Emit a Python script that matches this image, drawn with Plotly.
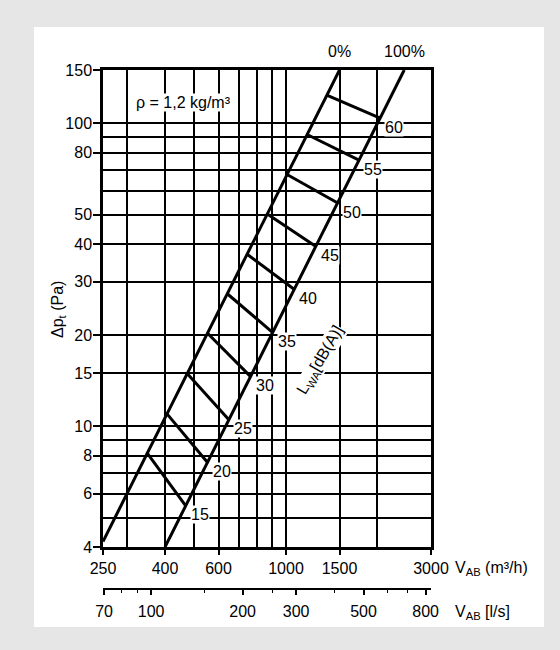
import math
import plotly.graph_objects as go

# ---------------- data ----------------
# characteristic lines (V in m3/h, dp in Pa)
line0_v = [250, 1500]
line0_dp = [4.17, 150]
line100_v = [400, 2449]
line100_dp = [4, 150]

# sound power level rungs L_WA [dB(A)]
rung_labels = ["15", "20", "25", "30", "35", "40", "45", "50", "55", "60"]
rung_v_start = [350, 406, 473, 552, 641, 745, 868, 1008, 1173, 1362]
rung_dp_start = [8.15, 11.0, 14.95, 20.3, 27.4, 37.0, 50.2, 67.8, 91.9, 124.0]
rung_v_end = [468, 552, 650, 765, 905, 1066, 1255, 1485, 1745, 2040]
rung_dp_end = [5.47, 7.6, 10.5, 14.6, 20.4, 28.3, 39.2, 54.5, 75.5, 104]

# axes
x_range = [250, 3000]
x_ticks = [250, 400, 600, 1000, 1500, 3000]
x_grid_minor = [300, 500, 700, 800, 900, 2000]
y_range = [4, 150]
y_ticks = [4, 6, 8, 10, 15, 20, 30, 40, 50, 80, 100, 150]
y_grid_minor = [5, 7, 9, 60, 70, 90]
ls_ticks = [70, 100, 200, 300, 500, 800]
ls_minor = [80, 90, 150, 250, 400, 600, 700]
M3H_PER_LS = 3.6

# ---------------- figure ----------------
FONT = "Liberation Sans, Arial, sans-serif"
FS = 16
W, H = 560, 650
L, R, T, B = 103, 129, 70, 61
PW = W - L - R
PH = H - T - B
plot_bottom = 547
ydom0 = (H - B - plot_bottom) / PH


def px_x(p):
    return (p - L) / PW


def px_y(p):
    return (H - B - p) / PH


fig = go.Figure()

fig.add_trace(go.Scatter(x=line0_v, y=line0_dp, mode="lines",
                         line=dict(color="black", width=3), hoverinfo="skip", showlegend=False))
fig.add_trace(go.Scatter(x=line100_v, y=line100_dp, mode="lines",
                         line=dict(color="black", width=3), hoverinfo="skip", showlegend=False))

rx, ry = [], []
for a, b, c, d in zip(rung_v_start, rung_v_end, rung_dp_start, rung_dp_end):
    rx += [a, b, None]
    ry += [c, d, None]
fig.add_trace(go.Scatter(x=rx, y=ry, mode="lines",
                         line=dict(color="black", width=3), hoverinfo="skip", showlegend=False))

# invisible trace to carry the l/s axis
fig.add_trace(go.Scatter(x=[x_range[0] / M3H_PER_LS, x_range[1] / M3H_PER_LS], y=[y_range[0], y_range[0]],
                         xaxis="x2", yaxis="y", mode="markers", marker=dict(opacity=0),
                         hoverinfo="skip", showlegend=False))

txt = dict(family=FONT, size=FS, color="black")

annotations = []
for lab, v, dp in zip(rung_labels, rung_v_end, rung_dp_end):
    annotations.append(dict(x=math.log10(v), y=math.log10(dp), xref="x", yref="y", text=lab,
                            showarrow=False, xanchor="center", yanchor="middle",
                            xshift=14, yshift=-9, bgcolor="white", borderpad=0, font=txt))


def ann(x, y, text, xref="paper", **kw):
    d = dict(x=x, y=y, xref=xref, yref="paper", text=text, showarrow=False,
             xanchor="center", yanchor="middle", font=txt)
    d.update(kw)
    return d


annotations += [
    ann(math.log10(line0_v[1]), px_y(52), "0%", xref="x"),
    ann(math.log10(line100_v[1]), px_y(52), "100%", xref="x"),
    ann(px_x(183), px_y(102), "ρ = 1,2 kg/m³", bgcolor="white", borderpad=0),
    ann(px_x(320), px_y(360), "L<sub>WA</sub>[dB(A)]", textangle=-60, bgcolor="white", borderpad=0),
    ann(px_x(58), px_y(310), "Δp<sub>t</sub> (Pa)", textangle=-90),
    ann(px_x(453), px_y(568), "V<sub>AB</sub> (m³/h)", xanchor="left"),
    ann(px_x(453), px_y(612), "V<sub>AB</sub> [l/s]", xanchor="left"),
]

shapes = [dict(type="rect", xref="paper", yref="paper", layer="below",
               x0=px_x(34), x1=px_x(544), y0=px_y(627), y1=px_y(27),
               fillcolor="white", line=dict(width=0))]

fig.update_layout(
    width=W, height=H,
    margin=dict(l=L, r=R, t=T, b=B, pad=0, autoexpand=False),
    paper_bgcolor="#e6e6e6", plot_bgcolor="white",
    showlegend=False,
    annotations=annotations, shapes=shapes,
    xaxis=dict(type="log", range=[math.log10(x_range[0]), math.log10(x_range[1])],
               tickmode="array", tickvals=x_ticks, ticktext=[str(v) for v in x_ticks],
               showgrid=True, gridcolor="black", gridwidth=1.6,
               minor=dict(tickmode="array", tickvals=x_grid_minor, showgrid=True,
                          gridcolor="black", gridwidth=1.6, ticks=""),
               showline=True, linecolor="black", linewidth=2.5, mirror=True,
               ticks="outside", ticklen=5, tickwidth=1.5, tickcolor="black",
               tickfont=txt, zeroline=False, anchor="y", fixedrange=True, automargin=False),
    yaxis=dict(type="log", range=[math.log10(y_range[0]), math.log10(y_range[1])],
               domain=[ydom0, 1],
               tickmode="array", tickvals=y_ticks, ticktext=[str(v) for v in y_ticks],
               showgrid=True, gridcolor="black", gridwidth=1.6,
               minor=dict(tickmode="array", tickvals=y_grid_minor, showgrid=True,
                          gridcolor="black", gridwidth=1.6, ticks=""),
               showline=True, linecolor="black", linewidth=2.5, mirror=True,
               ticks="outside", ticklen=7, tickwidth=1.5, tickcolor="black",
               ticklabelstandoff=-2,
               tickfont=txt, zeroline=False, fixedrange=True, automargin=False),
    xaxis2=dict(type="log", overlaying="x", anchor="free", position=0, side="bottom",
                range=[math.log10(x_range[0] / M3H_PER_LS), math.log10(x_range[1] / M3H_PER_LS)],
                tickmode="array", tickvals=ls_ticks, ticktext=[str(v) for v in ls_ticks],
                minor=dict(tickmode="array", tickvals=ls_minor, ticks="outside", ticklen=3,
                           tickwidth=1.2, tickcolor="black"),
                showgrid=False, showline=True, linecolor="black", linewidth=1.5,
                ticks="outside", ticklen=5, tickwidth=1.5, tickcolor="black",
                ticklabelstandoff=3,
                tickfont=txt, zeroline=False, fixedrange=True, automargin=False),
)

fig.write_html("out.html", config={"displayModeBar": False, "staticPlot": False},
               post_script="document.body.style.margin='0';")
